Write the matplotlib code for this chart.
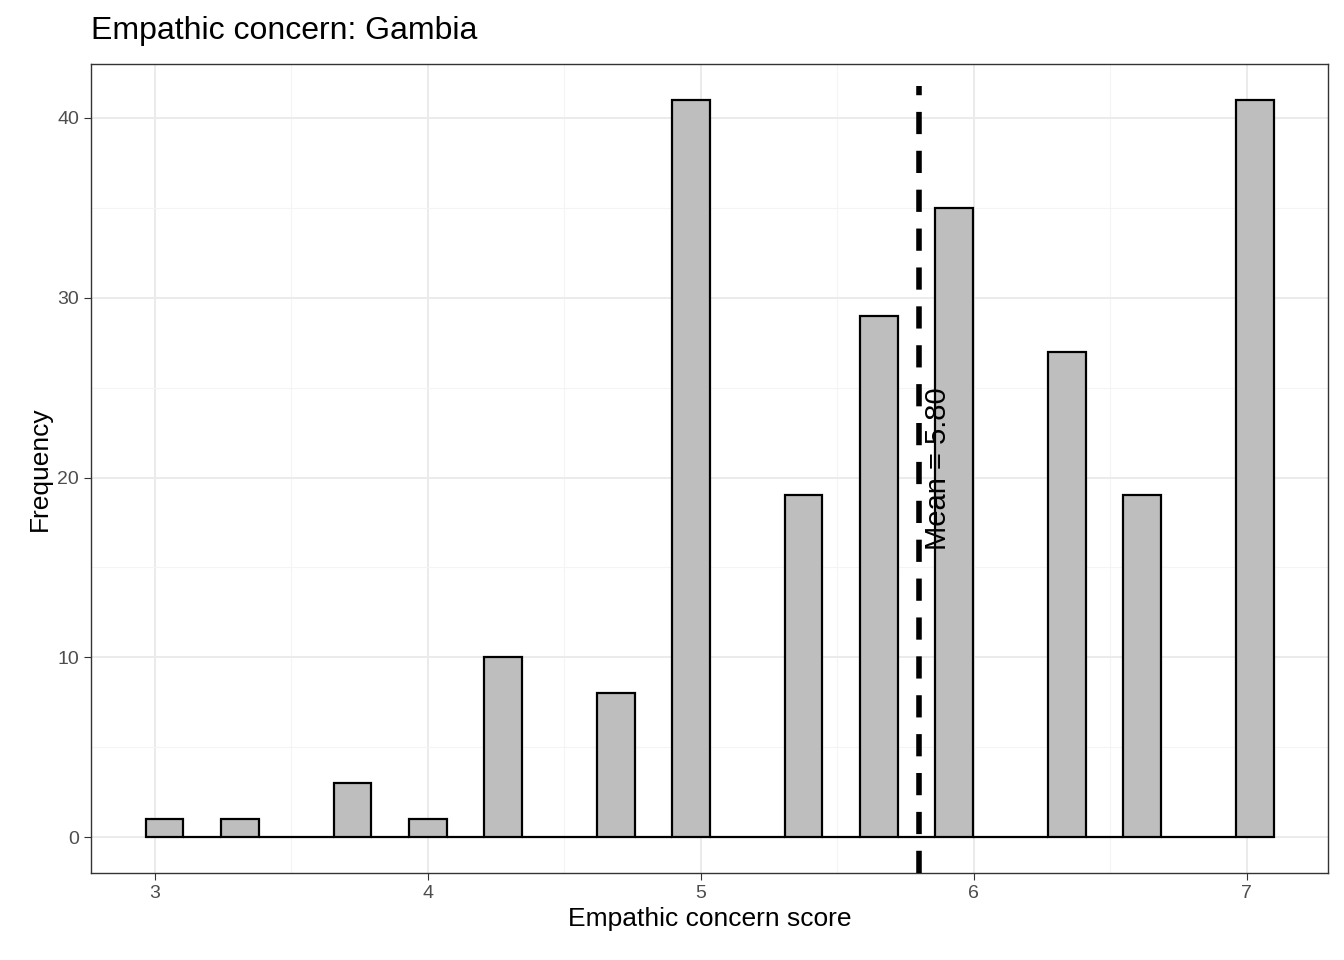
import numpy as np
import matplotlib.pyplot as plt

plt.rcParams['font.family'] = ['Liberation Sans', 'DejaVu Sans']

# histogram: 30 bins from the picture
bin_start = 2.967
bin_width = 0.1377
counts = [1, 0, 1, 0, 0, 3, 0, 1, 0, 10, 0, 0, 8, 0, 41, 0, 0, 19, 0, 29,
          0, 35, 0, 0, 27, 0, 19, 0, 0, 41]
mean_score = 5.80

edges = bin_start + bin_width * np.arange(len(counts))

fig = plt.figure(figsize=(13.44, 9.6), dpi=100)
ax = fig.add_axes([0.0677, 0.0906, 0.9203, 0.8427])

ax.bar(edges, counts, width=bin_width, align='edge', color='#bebebe',
       edgecolor='black', linewidth=1.6, zorder=2)
ax.plot([mean_score, mean_score], [-2.0, 41.8], color='black',
        linestyle=(0, (4, 3)), linewidth=4, zorder=3)
ax.text(mean_score + 0.07, 20.5, f'Mean = {mean_score:.2f}', rotation=90,
        ha='center', va='center', fontsize=21, zorder=4)

ax.set_xlim(2.766, 7.297)
ax.set_ylim(-2.0, 43.0)
ax.set_xticks([3, 4, 5, 6, 7])
ax.set_xticks([3.5, 4.5, 5.5, 6.5], minor=True)
ax.set_yticks([0, 10, 20, 30, 40])
ax.set_yticks([5, 15, 25, 35], minor=True)
ax.grid(which='major', color='#ebebeb', linewidth=1.4, zorder=0)
ax.grid(which='minor', color='#f4f4f4', linewidth=0.8, zorder=0)
ax.set_axisbelow(True)
ax.tick_params(which='minor', length=0)
ax.tick_params(which='major', labelsize=14, labelcolor='#4d4d4d', color='#333333', length=5)
for s in ax.spines.values():
    s.set_color('#333333')
    s.set_linewidth(1)

ax.set_xlabel('Empathic concern score', fontsize=19)
ax.set_ylabel('Frequency', fontsize=19)
fig.text(0.068, 0.952, 'Empathic concern: Gambia', fontsize=23, ha='left', va='bottom')

fig.savefig('out.png', dpi=100)
